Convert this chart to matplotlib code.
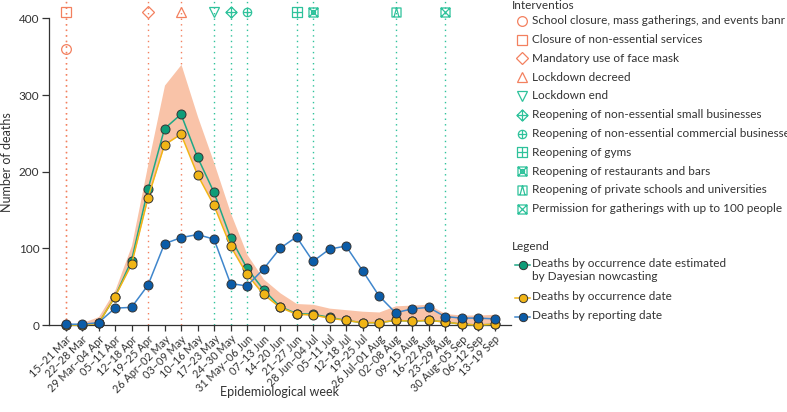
import numpy as np
import matplotlib
import matplotlib.pyplot as plt
from matplotlib.path import Path
from matplotlib.lines import Line2D
matplotlib.use('Agg')

plt.rcParams['font.family'] = ['Lato', 'DejaVu Sans']

weeks = ["15–21 Mar", "22–28 Mar", "29 Mar–04 Apr", "05–11 Apr", "12–18 Apr", "19–25 Apr",
         "26 Apr–02 May", "03–09 May", "10–16 May", "17–23 May", "24–30 May", "31 May–06 Jun",
         "07–13 Jun", "14–20 Jun", "21–27 Jun", "28 Jun–04 Jul", "05–11 Jul", "12–18 Jul",
         "19–25 Jul", "26 Jul–01 Aug", "02–08 Aug", "09–15 Aug", "16–22 Aug", "23–29 Aug",
         "30 Aug–05 Sep", "06–12 Sep", "13–19 Sep"]

nowcast = [0, 0, 2, 37, 84, 177, 256, 275, 219, 173, 114, 74, 46, 24, 15, 14, 10, 6,
           3, 3, 6, 5, 6, 4, 1, 0, 1]
nowcast_upper = [1, 3, 11, 46, 104, 211, 313, 340, 272, 211, 146, 92, 60, 42, 28, 27, 22, 20,
                 18, 17, 25, 26, 27, 15, 13, 13, 14]
occurrence = [0, 0, 2, 37, 79, 166, 235, 249, 196, 156, 103, 66, 40, 23, 14, 13, 9, 6,
              3, 3, 6, 5, 6, 4, 1, 0, 1]
reporting = [1, 1, 3, 22, 23, 52, 106, 114, 118, 112, 54, 51, 73, 100, 115, 83, 99, 103,
             71, 38, 16, 21, 23, 11, 9, 9, 8]

interventions = ["School closure, mass gatherings, and events banr",
                 "Closure of non-essential services",
                 "Mandatory use of face mask",
                 "Lockdown decreed",
                 "Lockdown end",
                 "Reopening of non-essential small businesses",
                 "Reopening of non-essential commercial businesses",
                 "Reopening of gyms",
                 "Reopening of restaurants and bars",
                 "Reopening of private schools and universities",
                 "Permission for gatherings with up to 100 people"]
intervention_week = [0, 0, 5, 7, 9, 10, 11, 14, 15, 20, 23]
intervention_y = [360, 408, 408, 408, 408, 408, 408, 408, 408, 408, 408]

ORANGE = '#F3805F'
TEAL = '#2EC29B'
GREEN_LINE = '#1FA886'
GREEN = '#0E9C78'
YELLOW = '#F1B516'
BLUE = '#0B5CA8'
BLUE_LINE = '#3F86CC'
BAND = '#F9C3A8'


def compound(*paths):
    return Path.make_compound_path(*paths)


def seg(x0, y0, x1, y1):
    return Path([(x0, y0), (x1, y1)], [Path.MOVETO, Path.LINETO])


sq = Path([(-1, -1), (1, -1), (1, 1), (-1, 1), (-1, -1)],
          [Path.MOVETO, Path.LINETO, Path.LINETO, Path.LINETO, Path.CLOSEPOLY])
dia = Path([(0, -1), (1, 0), (0, 1), (-1, 0), (0, -1)],
           [Path.MOVETO, Path.LINETO, Path.LINETO, Path.LINETO, Path.CLOSEPOLY])
circ = Path.unit_circle()
plus = compound(seg(-1, 0, 1, 0), seg(0, -1, 0, 1))
cross = compound(seg(-1, -1, 1, 1), seg(-1, 1, 1, -1))
tri_in = Path([(-0.55, -1), (0, 1), (0.55, -1)], [Path.MOVETO, Path.LINETO, Path.LINETO])

markers = ['o', 's', 'D', '^', 'v',
           compound(dia, plus), compound(circ, plus), compound(sq, plus),
           compound(sq, cross, Path.circle((0, 0), 0.45)), compound(sq, tri_in),
           compound(sq, cross)]
sizes = [7, 7, 6.5, 7.5, 7.5, 8, 6, 6.5, 6.5, 6.5, 6.5]
colors = [ORANGE] * 4 + [TEAL] * 7

fig = plt.figure(figsize=(7.87, 4.12), dpi=100)
ax = fig.add_axes([49 / 787, 1 - 325 / 412, (511 - 49) / 787, 325 / 412])

x = np.arange(len(weeks))

for w, c in zip(intervention_week, colors):
    ax.axvline(w, color=c, ls=(0, (1, 3)), lw=1, zorder=1)

ax.fill_between(x, occurrence, nowcast_upper, color=BAND, lw=0, zorder=2)

ax.plot(x, nowcast, color=GREEN_LINE, lw=1.1, marker='o', ms=6.5, mfc=GREEN,
        mec='#333333', mew=0.7, zorder=3, clip_on=False)
ax.plot(x, occurrence, color=YELLOW, lw=1.1, marker='o', ms=6.5, mfc=YELLOW,
        mec='#333333', mew=0.7, zorder=4, clip_on=False)
ax.plot(x, reporting, color=BLUE_LINE, lw=1.1, marker='o', ms=6.5, mfc=BLUE,
        mec='#333333', mew=0.7, zorder=5, clip_on=False)

for w, yv, m, s, c in zip(intervention_week, intervention_y, markers, sizes, colors):
    ax.plot([w], [yv], marker=m, ms=s, mfc='none', mec=c, mew=0.9, ls='none',
            zorder=6, clip_on=False)

ax.set_xlim(-1, 27)
ax.set_ylim(0, 424)
ax.set_yticks([0, 100, 200, 300, 400])
ax.set_xticks(x)
ax.set_xticklabels(weeks, rotation=45, ha='right', rotation_mode='anchor')
ax.tick_params(axis='both', labelsize=8.5, color='#333333', length=5, width=0.9,
               labelcolor='#333333', pad=2)
ax.tick_params(axis='x', length=4, pad=2, labelsize=7.8)
for side in ['top', 'right']:
    ax.spines[side].set_visible(False)
ax.spines['left'].set_bounds(0, 400)
for side in ['left', 'bottom']:
    ax.spines[side].set_color('#333333')
    ax.spines[side].set_linewidth(0.9)
ax.patch.set_visible(False)

ax.set_xlabel("Epidemiological week", fontsize=9, color='#333333')
ax.xaxis.set_label_coords(0.5, -0.188)
ax.set_ylabel("Number of deaths", fontsize=9, color='#333333', labelpad=4)


def fx(px):
    return px / 787


def fy(py):
    return 1 - py / 412


# interventions legend
fig.text(fx(512), fy(5.5), "Interventios", fontsize=8.5, color='#333333', va='center')
for i, (lab, m, s, c) in enumerate(zip(interventions, markers, sizes, colors)):
    yy = 20.7 + 18.8 * i
    fig.add_artist(Line2D([fx(522)], [fy(yy)], marker=m, ms=s, mfc='none', mec=c,
                          mew=0.9, ls='none', transform=fig.transFigure))
    fig.text(fx(532.5), fy(yy), lab, fontsize=8.5, color='#333333', va='center')

# series legend
fig.text(fx(512), fy(247), "Legend", fontsize=8.5, color='#333333', va='center')
series = [("Deaths by occurrence date estimated\nby Dayesian nowcasting", GREEN_LINE, GREEN, 265),
          ("Deaths by occurrence date", YELLOW, YELLOW, 297.7),
          ("Deaths by reporting date", BLUE_LINE, BLUE, 316.7)]
for lab, lc, fc, yy in series:
    fig.add_artist(Line2D([fx(515), fx(530)], [fy(yy), fy(yy)], color=lc, lw=1.1,
                          transform=fig.transFigure))
    fig.add_artist(Line2D([fx(522.5)], [fy(yy)], marker='o', ms=6, mfc=fc, mec='#333333',
                          mew=0.7, transform=fig.transFigure))
    fig.text(fx(532.5), fy(yy) + 0.017, lab, fontsize=8.5, color='#333333', va='top',
             linespacing=1.25)

fig.savefig('out.png', dpi=100)
